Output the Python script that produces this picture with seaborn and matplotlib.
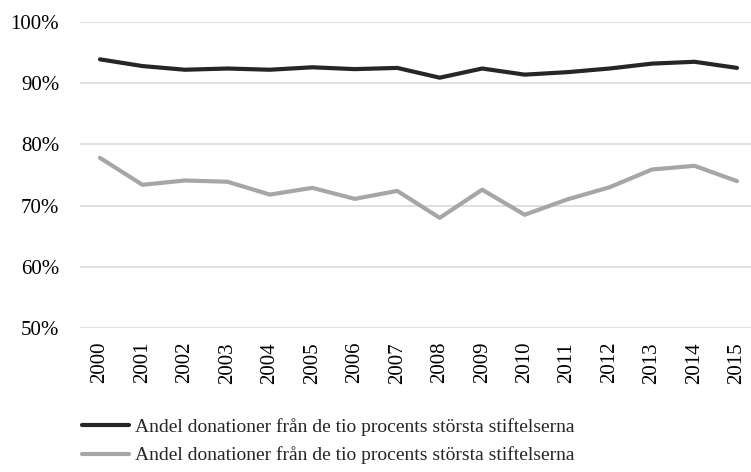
import matplotlib
matplotlib.use('Agg')
import matplotlib.pyplot as plt
import seaborn as sns
from matplotlib.ticker import PercentFormatter

# data (percent)
years = [str(y) for y in range(2000, 2016)]
top_black = [93.9, 92.8, 92.2, 92.4, 92.2, 92.6, 92.3, 92.5, 90.9, 92.4,
             91.4, 91.8, 92.4, 93.2, 93.5, 92.5]
top_gray = [77.8, 73.4, 74.1, 73.9, 71.8, 72.9, 71.1, 72.4, 68.0, 72.6,
            68.5, 71.0, 73.0, 75.9, 76.5, 74.0]
label = 'Andel donationer från de tio procents största stiftelserna'

sns.set_theme(style='white')
plt.rcParams['font.family'] = ['Liberation Serif', 'DejaVu Serif']

fig = plt.figure(figsize=(7.51, 4.72), dpi=100)
ax = fig.add_axes([80 / 751, 1 - 328 / 472, 671 / 751, 306 / 472])

x = list(range(len(years)))
sns.lineplot(x=x, y=top_black, ax=ax, color='#262626', linewidth=3.0,
             label=label)
sns.lineplot(x=x, y=top_gray, ax=ax, color='#a6a6a6', linewidth=3.0,
             label=label)

ax.set_ylim(50, 100)
ax.set_yticks([50, 60, 70, 80, 90, 100])
ax.yaxis.set_major_formatter(PercentFormatter(decimals=0))
ax.set_xlim(-0.47, 15.33)
ax.set_xticks(x)
ax.set_xticklabels(years, rotation=90)
ax.tick_params(axis='both', labelsize=15, length=0, colors='#000000')
ax.tick_params(axis='y', pad=15)
ax.tick_params(axis='x', pad=10)
ax.grid(axis='y', color='#d9d9d9', linewidth=1.2)
ax.set_axisbelow(True)
for s in ax.spines.values():
    s.set_visible(False)
ax.set_xlabel('')
ax.set_ylabel('')

handles, labels = ax.get_legend_handles_labels()
ax.get_legend().remove()
fig.legend(handles, labels, loc='upper left',
           bbox_to_anchor=(82 / 751, 1 - 418 / 472), frameon=False,
           fontsize=14, handlelength=2.4, handletextpad=0.35,
           labelspacing=0.55, borderaxespad=0, borderpad=0)

fig.savefig('out.png', dpi=100)
